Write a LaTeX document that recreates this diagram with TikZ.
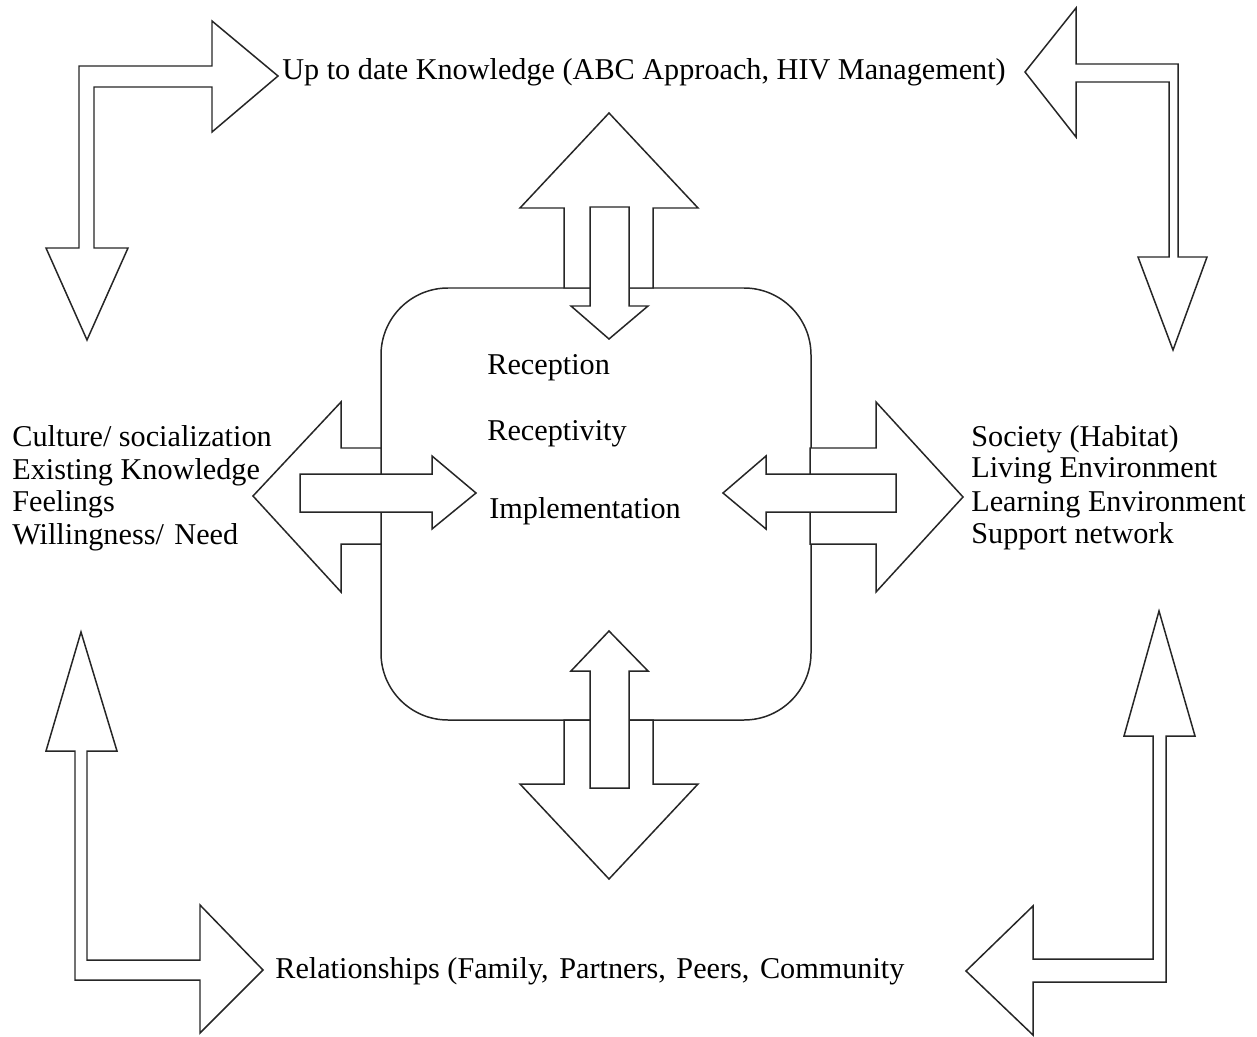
\documentclass[tikz,border=0pt]{standalone}
\usepackage{fontspec}
\setmainfont{Liberation Serif}
\begin{document}
\begin{tikzpicture}[x=0.02cm,y=-0.02cm,
  outline/.style={draw=black!85,line width=0.85pt,fill=white,line join=miter},
  label/.style={anchor=base west,inner sep=0pt,font=\fontsize{17.2pt}{18.7pt}\selectfont}]
\useasboundingbox (0,0) rectangle (1257,1037);

% corner bent arrows
\draw[outline] (79,248) -- (79,66) -- (212,66) -- (212,21) -- (278,76) -- (212,132)
  -- (212,87) -- (94,87) -- (94,248) -- (128,248) -- (87,340) -- (46,248) -- cycle;
\draw[outline] (1025,72) -- (1076,8) -- (1076,64) -- (1178,64) -- (1178,257) -- (1207,257)
  -- (1173,350) -- (1138,257) -- (1169,257) -- (1169,82) -- (1076,82) -- (1076,137) -- cycle;
\draw[outline] (81,632) -- (117,751) -- (87,751) -- (87,960) -- (200,960) -- (200,905)
  -- (263,970) -- (200,1033) -- (200,980) -- (75,980) -- (75,751) -- (46,751) -- cycle;
\draw[outline] (1159,611) -- (1195,736) -- (1166,736) -- (1166,982) -- (1033,982) -- (1033,1035)
  -- (966,971) -- (1033,906) -- (1033,959) -- (1153,959) -- (1153,736) -- (1124,736) -- cycle;

% central rounded box
\draw[outline,rounded corners=1.34cm] (381,288) rectangle (811,720);

% outgoing wide arrows
\draw[outline] (564,288) -- (564,208) -- (520,208) -- (609,113) -- (698,208) -- (653,208) -- (653,288) -- cycle;
\draw[outline] (564,720) -- (564,784) -- (520,784) -- (609,879) -- (698,784) -- (653,784) -- (653,720) -- cycle;
\draw[outline] (381,448) -- (341,448) -- (341,402) -- (253,496) -- (341,592) -- (341,544) -- (381,544) -- cycle;
\draw[outline] (810,448) -- (876,448) -- (876,402) -- (963,497) -- (876,592) -- (876,544) -- (810,544) -- cycle;

% incoming narrow arrows
\draw[outline] (590,207) -- (629,207) -- (629,306) -- (648,306) -- (609,339) -- (571,306) -- (590,306) -- cycle;
\draw[outline] (590,788) -- (590,671) -- (571,671) -- (609,631) -- (648,671) -- (629,671) -- (629,788) -- cycle;
\draw[outline] (300,474) -- (432,474) -- (432,456) -- (476,493) -- (432,529) -- (432,512) -- (300,512) -- cycle;
\draw[outline] (896,474) -- (766,474) -- (766,456) -- (723,493) -- (766,529) -- (766,512) -- (896,512) -- cycle;

% texts
\node[label] (knowledge) at (282,80) {Up to date Knowledge (ABC Approach, HIV Management)};
\node[label] (relations) at (275,978) {Relationships (Family,\hspace{0.35em}Partners,\hspace{0.35em}Peers,\hspace{0.35em}Community};

\node[label] (reception) at (487,374) {Reception};
\node[label] (receptivity) at (487,440) {Receptivity};
\node[label] (implementation) at (489,518) {Implementation};

\node[label] (culture) at (12,446) {Culture/ socialization};
\node[label] (existing) at (12,479) {Existing Knowledge};
\node[label] (feelings) at (12,511) {Feelings};
\node[label] (willing) at (12,544) {Willingness/\hspace{0.35em}Need};

\node[label] (society) at (971,446) {Society (Habitat)};
\node[label] (living) at (971,477) {Living Environment};
\node[label] (learning) at (971,511) {Learning Environment};
\node[label] (support) at (971,543) {Support network};
\end{tikzpicture}
\end{document}
